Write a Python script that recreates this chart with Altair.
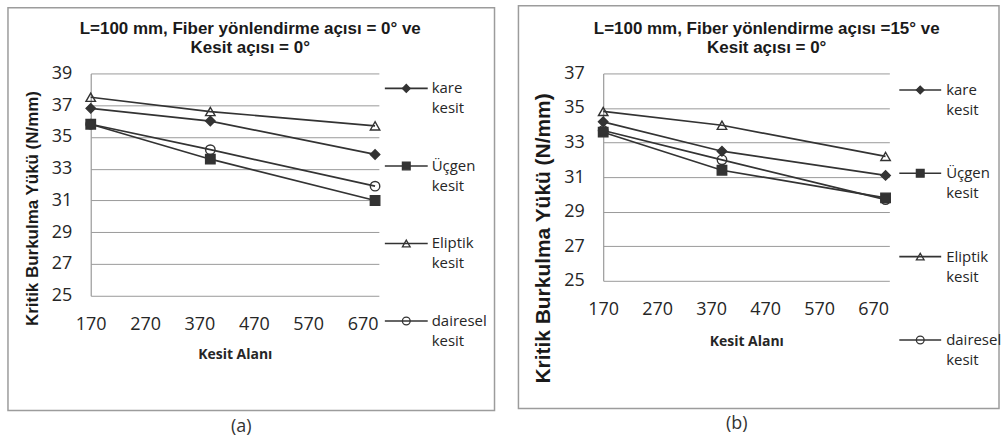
import altair as alt
import pandas as pd

# ---------------- data ----------------
series = ["kare kesit", "Üçgen kesit", "Eliptik kesit", "dairesel kesit"]
shapes = ["diamond", "square", "triangle-up", "circle"]
x_ticks = [170, 270, 370, 470, 570, 670]
x_points = [170, 390, 693]

a_kare = [36.8, 36.0, 33.9]
a_ucgen = [35.8, 33.6, 31.0]
a_eliptik = [37.5, 36.6, 35.7]
a_dairesel = [35.8, 34.2, 31.9]

b_kare = [34.2, 32.5, 31.1]
b_ucgen = [33.6, 31.4, 29.8]
b_eliptik = [34.8, 34.0, 32.2]
b_dairesel = [33.7, 32.0, 29.7]

a_yticks = [25, 27, 29, 31, 33, 35, 37, 39]
b_yticks = [25, 27, 29, 31, 33, 35, 37]

title_a = "L=100 mm, Fiber yönlendirme açısı = 0° ve\nKesit açısı = 0°"
title_b = "L=100 mm, Fiber yönlendirme açısı =15°  ve\nKesit açısı = 0°"
y_title = "Kritik Burkulma Yükü (N/mm)"
x_title = "Kesit Alanı"
captions = ["(a)", "(b)"]

DARK = "#333333"
TXT = "#262626"
GRID = "#9a9a9a"
FRAME = "#9c9c9c"


def panel(vals, ymax, yticks, title, caption, g):
    rows = []
    for s, ys in zip(series, vals):
        for x, y in zip(x_points, ys):
            rows.append({"x": x, "y": y, "s": s})
    df = pd.DataFrame(rows)
    one = pd.DataFrame({"k": [0]})

    shape_enc = alt.Shape("s:N", scale=alt.Scale(domain=series, range=shapes), legend=None)
    fill_enc = alt.Fill("s:N", scale=alt.Scale(domain=series, range=[DARK, DARK, "transparent", "transparent"]),
                        legend=None)

    x_enc = alt.X("x:Q", scale=alt.Scale(domain=[170, 700], nice=False, zero=False),
                  axis=alt.Axis(values=x_ticks, grid=False, domain=False, ticks=False, labelFlush=False,
                                labelFont="Open Sans", labelFontSize=18, labelColor=TXT, labelPadding=20,
                                title=x_title, titleFont="Open Sans", titleFontSize=14, titleFontWeight="bold",
                                titleColor=TXT, titleX=g["w"] / 2, titleY=g["xty"], titleAlign="center",
                                titleBaseline="middle"))
    y_enc = alt.Y("y:Q", scale=alt.Scale(domain=[25, ymax], nice=False, zero=False),
                  axis=alt.Axis(values=yticks, grid=True, gridColor=GRID, gridWidth=1, domain=True,
                                domainColor=GRID, domainWidth=1.2, ticks=False, labelFlush=False,
                                labelFont="Open Sans", labelFontSize=18, labelColor=TXT, labelPadding=19,
                                title=y_title, titleFont="Liberation Sans", titleFontSize=g["yts"],
                                titleFontWeight="bold", titleColor="#1a1a1a", titleAngle=270,
                                titleX=g["ytx"], titleY=g["yty"], titleAlign="center", titleBaseline="middle"))

    lines = alt.Chart(df).mark_line(color=DARK, strokeWidth=1.7).encode(x=x_enc, y=y_enc, detail="s:N")
    pts = alt.Chart(df).mark_point(filled=True, stroke=DARK, strokeWidth=1.4, size=90, opacity=1).encode(
        x=x_enc, y=y_enc, shape=shape_enc, fill=fill_enc)
    main = alt.layer(lines, pts)

    leg = pd.DataFrame({"s": series})
    ly = alt.Y("s:N", scale=alt.Scale(type="point", domain=series, range=g["legy"], padding=0), axis=None)
    lrule = alt.Chart(leg).mark_rule(color=DARK, strokeWidth=1.6).encode(
        x=alt.value(g["lx0"]), x2=alt.value(g["lx1"]), y=ly)
    lpt = alt.Chart(leg).mark_point(filled=True, stroke=DARK, strokeWidth=1.3, size=60, opacity=1).encode(
        x=alt.value((g["lx0"] + g["lx1"]) / 2), y=ly, shape=shape_enc, fill=fill_enc)
    ltxt = alt.Chart(leg).mark_text(align="left", baseline="middle", dy=0, lineBreak=" ", lineHeight=20,
                                    font="Open Sans", fontSize=15, color=TXT).encode(
        x=alt.value(g["ltx"]), y=ly, text="s:N")
    legend = alt.layer(lrule, lpt, ltxt)

    frame = alt.Chart(one).mark_rect(fill="transparent", stroke=FRAME, strokeWidth=1.5).encode(
        x=alt.value(g["fl"]), x2=alt.value(g["fr"]), y=alt.value(g["ft"]), y2=alt.value(g["fb"]))
    ttl = alt.Chart(one).mark_text(font="Liberation Sans", fontSize=17, fontWeight="bold", lineBreak="\n",
                                   lineHeight=20, align="center", baseline="middle", color="#1a1a1a").encode(
        x=alt.value(g["tx"]), y=alt.value(g["ty"]), text=alt.value(title))
    cap = alt.Chart(one).mark_text(font="Open Sans", fontSize=18, align="center", baseline="middle",
                                   color="#333333").encode(
        x=alt.value(g["cx"]), y=alt.value(g["cy"]), text=alt.value(caption))

    return alt.layer(frame, ttl, cap, main, legend).resolve_scale(y="independent").properties(
        width=g["w"], height=g["h"])


geo_a = dict(w=289, h=223, fl=-83, fr=405, ft=-66, fb=338, tx=160, ty=-45, cx=151, cy=355,
             lx0=295, lx1=338, ltx=342, legy=[15, 248.3], ytx=-58, yty=135, yts=17, xty=59)
geo_b = dict(w=287, h=208, fl=-85, fr=397, ft=-68, fb=336, tx=164, ty=-45, cx=134, cy=352,
             lx0=297, lx1=339, ltx=344, legy=[16.6, 267.3], ytx=-60, yty=165, yts=21, xty=60.7)

pa = panel([a_kare, a_ucgen, a_eliptik, a_dairesel], 39, a_yticks, title_a, captions[0], geo_a)
pb = panel([b_kare, b_ucgen, b_eliptik, b_dairesel], 37, b_yticks, title_b, captions[1], geo_b)

chart = alt.hconcat(pa, pb, spacing=22).properties(
    padding={"left": 7, "top": 4, "right": 0, "bottom": 0}, background="white"
).configure_view(strokeWidth=0)

chart.save("out.html", embed_options={"renderer": "svg", "actions": False})
